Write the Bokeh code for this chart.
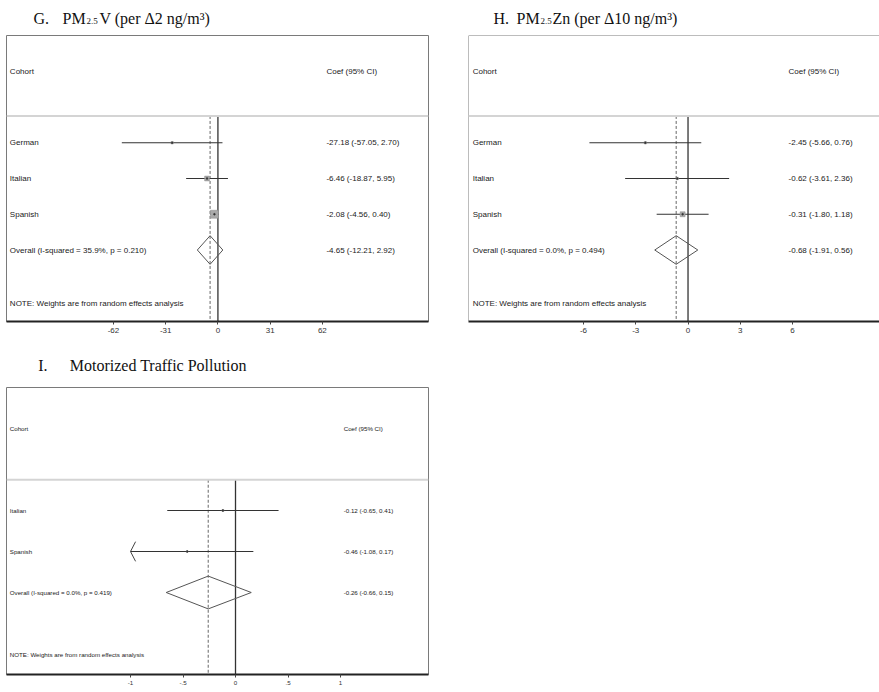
import math
from bokeh.plotting import figure
from bokeh.layouts import column, row
from bokeh.models import Range1d, Span, FixedTicker
from bokeh.core.properties import value
from bokeh.embed import file_html
from bokeh.resources import INLINE

# ---------------- data ----------------
G_cohorts = ["German", "Italian", "Spanish"]
G_coef = [-27.18, -6.46, -2.08]
G_lo = [-57.05, -18.87, -4.56]
G_hi = [2.70, 5.95, 0.40]
G_weight = [5.9, 24.9, 69.2]
G_overall = [-4.65, -12.21, 2.92]
G_overall_label = "Overall  (I-squared = 35.9%, p = 0.210)"
G_ticks = [-62, -31, 0, 31, 62]
G_ticklabels = ["-62", "-31", "0", "31", "62"]

H_cohorts = ["German", "Italian", "Spanish"]
H_coef = [-2.45, -0.62, -0.31]
H_lo = [-5.66, -3.61, -1.80]
H_hi = [0.76, 2.36, 1.18]
H_weight = [14.7, 17.0, 68.3]
H_overall = [-0.68, -1.91, 0.56]
H_overall_label = "Overall  (I-squared = 0.0%, p = 0.494)"
H_ticks = [-6, -3, 0, 3, 6]
H_ticklabels = ["-6", "-3", "0", "3", "6"]

I_cohorts = ["Italian", "Spanish"]
I_coef = [-0.12, -0.46]
I_lo = [-0.65, -1.08]
I_hi = [0.41, 0.17]
I_weight = [58.0, 42.0]
I_overall = [-0.26, -0.66, 0.15]
I_overall_label = "Overall  (I-squared = 0.0%, p = 0.419)"
I_ticks = [-1, -0.5, 0, 0.5, 1]
I_ticklabels = ["-1", "-.5", "0", ".5", "1"]

NOTE = "NOTE: Weights are from random effects analysis"

G_title = ["G.", "PM", "2.5", "V (per \u03942 ng/m\u00b3)"]
H_title = ["H.", "PM", "2.5", "Zn (per \u039410 ng/m\u00b3)"]
I_title = ["I.", "Motorized Traffic Pollution"]

SANS = "Liberation Sans"
SERIF = "Liberation Serif"


def fmt(c, l, h):
    return f"{c:.2f} ({l:.2f}, {h:.2f})"


def title_fig(parts, xs, sizes, baselines, width, height):
    t = figure(width=width, height=height, output_backend="svg",
               toolbar_location=None, x_range=Range1d(0, width),
               y_range=Range1d(height, 0), x_axis_location=None,
               y_axis_location=None, min_border=0)
    t.xgrid.visible = False
    t.ygrid.visible = False
    t.outline_line_color = None
    for txt, x, s, b in zip(parts, xs, sizes, baselines):
        t.text(x=[x], y=[b], text=[txt], text_font=value(SERIF),
               text_font_size=f"{s}px", text_baseline="alphabetic",
               text_align="left", text_color="#111111")
    return t


def panel(cohorts, coef, lo, hi, weight, overall, ov_label, ticks, ticklabels,
          width, height, borders, xr, left_x, coef_x, fs, box_scale,
          clip=None, outline=True):
    n = len(cohorts)
    rows = [i + 1 for i in range(n)]
    ov_row = n + 1
    bottom = n + 3
    p = figure(width=width, height=height, output_backend="svg",
               toolbar_location=None, x_range=Range1d(*xr),
               y_range=Range1d(bottom, -2), y_axis_location=None,
               min_border_left=borders[0], min_border_right=borders[1],
               min_border_top=borders[2], min_border_bottom=borders[3])
    p.xgrid.visible = False
    p.ygrid.visible = False
    if outline:
        p.outline_line_color = "#7a7a7a"
        p.outline_line_width = 1
    else:
        p.outline_line_color = None
        p.add_layout(Span(location=-2, dimension="width", line_color="#7a7a7a", line_width=1))
        p.add_layout(Span(location=xr[0], dimension="height", line_color="#7a7a7a", line_width=1))

    # header separator
    p.add_layout(Span(location=0.25, dimension="width", line_color="#d4d4d4", line_width=2))
    # zero line and overall dashed line
    p.segment(x0=[0], y0=[0.25], x1=[0], y1=[bottom], line_color="#333333", line_width=1.3)
    p.segment(x0=[overall[0]], y0=[0.25], x1=[overall[0]], y1=[bottom],
              line_color="#666666", line_width=1, line_dash="3 2")

    # CIs (clipped with an arrow head when beyond the axis limit)
    lo_c = [max(v, clip) if clip is not None else v for v in lo]
    p.segment(x0=lo_c, y0=rows, x1=hi, y1=rows, line_color="#333333", line_width=1)
    if clip is not None:
        ax, ay, bx, by = [], [], [], []
        for v, r in zip(lo, rows):
            if v < clip:
                dx = (xr[1] - xr[0]) * 0.012
                for s in (-1, 1):
                    ax.append(clip); ay.append(r)
                    bx.append(clip + dx); by.append(r + s * 0.24)
        if ax:
            p.segment(x0=ax, y0=ay, x1=bx, y1=by, line_color="#444444", line_width=1)
    # weight boxes and point estimates
    p.scatter(x=coef, y=rows, marker="square",
              size=[box_scale * math.sqrt(w) for w in weight],
              fill_color="#a9a9a9", line_color="#8c8c8c", line_width=0.5)
    p.scatter(x=coef, y=rows, marker="circle", size=1.8,
              fill_color="#333333", line_color="#333333", line_width=0.5)
    # overall diamond
    c, l, h = overall
    p.patch(x=[l, c, h, c], y=[ov_row, ov_row - 0.4, ov_row, ov_row + 0.4],
            fill_color=None, line_color="#555555", line_width=1)

    # texts
    labels = cohorts + [ov_label]
    ys = rows + [ov_row]
    coefs = [fmt(a, b, d) for a, b, d in zip(coef, lo, hi)] + [fmt(*overall)]
    tcol = "#1a1a1a"
    p.text(x=[left_x] * (n + 3), y=[-1] + ys + [n + 2.5],
           text=["Cohort"] + labels + [NOTE],
           text_font=value(SANS), text_font_size=f"{fs}px",
           text_baseline="middle", text_align="left", text_color=tcol)
    p.text(x=[coef_x] * (n + 2), y=[-1] + ys, text=["Coef (95% CI)"] + coefs,
           text_font=value(SANS), text_font_size=f"{fs}px",
           text_baseline="middle", text_align="left", text_color=tcol)

    # axis
    ax_ = p.xaxis[0]
    ax_.ticker = FixedTicker(ticks=ticks)
    ax_.major_label_overrides = {t: s for t, s in zip(ticks, ticklabels)}
    ax_.axis_line_color = "#222222"
    ax_.axis_line_width = 2
    ax_.major_tick_line_color = "#444444"
    ax_.major_tick_out = 3
    ax_.major_tick_in = 0
    ax_.minor_tick_line_color = None
    ax_.major_label_text_font = SANS
    ax_.major_label_text_font_size = f"{fs}px"
    ax_.major_label_text_color = "#333333"
    ax_.major_label_standoff = 3
    return p


tG = title_fig(G_title, [33, 62, 86, 99], [16, 16, 9, 16], [18, 18, 20, 18], 440, 30)
tH = title_fig(H_title, [53, 76, 100, 112], [16, 16, 9, 16], [18, 18, 20, 18], 439, 30)
tI = title_fig(I_title, [33, 66], [16, 16], [20, 20], 440, 35)

pG = panel(G_cohorts, G_coef, G_lo, G_hi, G_weight, G_overall, G_overall_label,
           G_ticks, G_ticklabels, 440, 315, (6, 12, 5, 23), (-125.5, 125.0),
           -123.5, 64.4, 8, 0.96)

pH = panel(H_cohorts, H_coef, H_lo, H_hi, H_weight, H_overall, H_overall_label,
           H_ticks, H_ticklabels, 439, 315, (28, 0, 5, 24), (-12.6, 10.99),
           -12.36, 5.77, 8, 0.6, outline=False)

pI = panel(I_cohorts, I_coef, I_lo, I_hi, I_weight, I_overall, I_overall_label,
           I_ticks, I_ticklabels, 440, 312, (6, 12, 7, 18), (-2.181, 1.838),
           -2.15, 1.03, 6.2, 0.25, clip=-1.0)

layout = column(row(tG, tH, spacing=0), row(pG, pH, spacing=0), tI, pI, spacing=0)
open("out.html", "w").write(file_html(layout, INLINE))
